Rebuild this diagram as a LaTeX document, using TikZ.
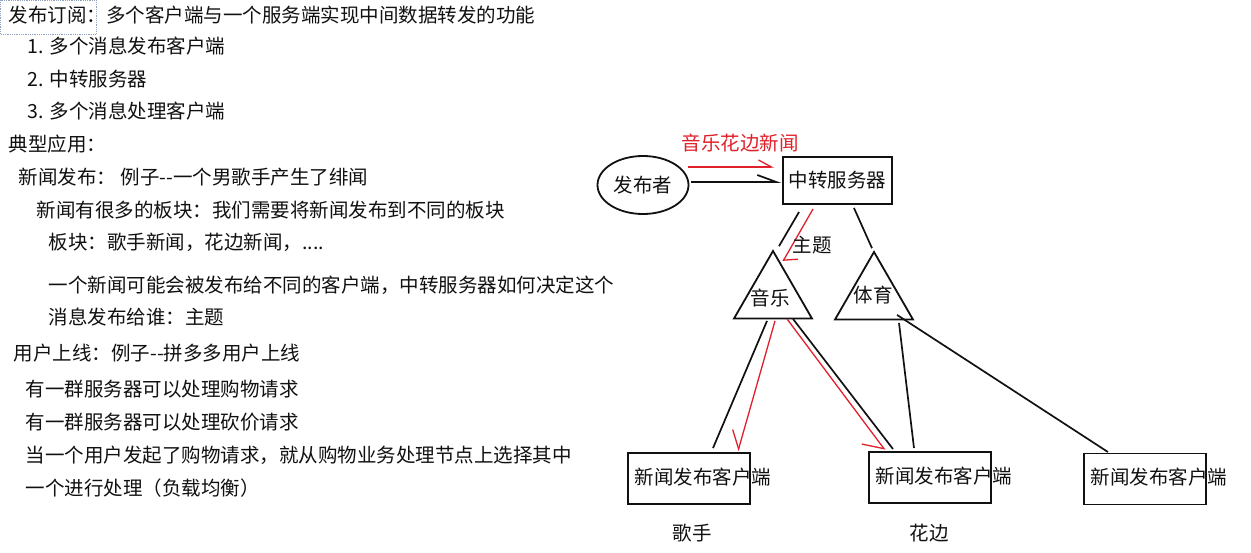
\documentclass[tikz,border=0pt]{standalone}
\usepackage{fontspec}
\setmainfont{Noto Sans CJK SC}
\usetikzlibrary{arrows.meta,positioning,calc,shapes.geometric}
\definecolor{ink}{HTML}{111111}
\definecolor{pen}{HTML}{E0202B}
\definecolor{sel}{HTML}{8FA3BF}

\begin{document}
\begin{tikzpicture}[x=1pt, y=1pt,
  font=\fontsize{19.5}{24}\selectfont, line width=1.5pt,
  txt/.style={anchor=west, inner sep=0pt, text=ink, text height=15pt, text depth=4pt},
  lbl/.style={inner sep=0pt, text=ink, text height=15pt, text depth=4pt},
  box/.style={draw=ink, line width=1.9pt, inner sep=0pt, minimum width=122pt, minimum height=51pt},
  tri/.style={draw=ink, line width=1.8pt, regular polygon, regular polygon sides=3, minimum size=90pt, inner sep=0pt},
  wire/.style={draw=ink, line width=1.7pt},
  redwire/.style={draw=pen, line width=1.3pt}]

\fill[white] (0,0) rectangle (1251,-553);
\useasboundingbox (0,0) rectangle (1251,-553);

% left side: notes
\draw[sel, densely dotted, line width=0.8pt] (0.5,-0.5) rectangle (96,-34);
\node[txt] (title) at (8,-17) {发布订阅：多个客户端与一个服务端实现中间数据转发的功能};
\node[txt] (it1) at (27,-48) {1. 多个消息发布客户端};
\node[txt] (it2) at (27,-81) {2. 中转服务器};
\node[txt] (it3) at (27,-113) {3. 多个消息处理客户端};
\node[txt] (app) at (8,-146) {典型应用：};
\node[txt] (news) at (18,-179) {新闻发布： 例子-{}-一个男歌手产生了绯闻};
\node[txt] (news1) at (36,-212) {新闻有很多的板块：我们需要将新闻发布到不同的板块};
\node[txt] (news2) at (48,-244) {板块：歌手新闻，花边新闻，....};
\node[txt] (news3) at (48,-287) {一个新闻可能会被发布给不同的客户端，中转服务器如何决定这个};
\node[txt] (news4) at (48,-319) {消息发布给谁：主题};
\node[txt] (user) at (13,-355) {用户上线：例子-{}-拼多多用户上线};
\node[txt] (user1) at (25,-391) {有一群服务器可以处理购物请求};
\node[txt] (user2) at (25,-424) {有一群服务器可以处理砍价请求};
\node[txt] (user3) at (25,-457) {当一个用户发起了购物请求，就从购物业务处理节点上选择其中};
\node[txt] (user4) at (25,-490) {一个进行处理（负载均衡）};

% right side: publisher and relay server
\node[draw=ink, line width=1.8pt, ellipse, minimum width=91pt, minimum height=58pt, inner sep=0pt, text=ink] (pub) at (643,-185) {发布者};
\node[draw=ink, line width=1.9pt, minimum width=109pt, minimum height=47pt, inner sep=0pt, text=ink] (srv) at (837.5,-180.5) {中转服务器};
\draw[wire, -{Straight Barb[harpoon,length=19pt,width=14pt]}] ([shift={(2,3)}]pub.east) -- ([shift={(-1,-1.5)}]srv.west);
\draw[redwire, -{Straight Barb[harpoon,length=13pt,width=14pt]}] ([shift={(-1.5,18)}]pub.east) -- ([shift={(-8,13.5)}]srv.west);
\node[lbl, text=pen] (msg) at (740,-145) {音乐花边新闻};

% topics
\node[tri] (mus) at (773,-296) {};
\node[tri] (spo) at (874,-297) {};
\node[lbl] (must) at (770,-300) {音乐};
\node[lbl] (spot) at (873,-297) {体育};
\draw[wire] ([shift={(17,-7)}]srv.south west) -- ([shift={(6,3)}]mus.north);
\draw[redwire, -{Straight Barb[harpoon,length=8pt,width=24pt]}] ([shift={(31,-4)}]srv.south west) -- ([shift={(10,-12)}]mus.north);
\node[lbl] (topic) at (812,-247) {主题};
\draw[wire] ([shift={(-39,-3)}]srv.south east) -- ([shift={(-2,2)}]spo.north);

% subscribers
\node[box] (cl1) at (689,-478.5) {};
\node[box] (cl2) at (930,-477.5) {};
\node[box] (cl3) at (1145,-479) {};
\node[txt] (cl1t) at ([xshift=7pt]cl1.west) {新闻发布客户端};
\node[txt] (cl2t) at ([xshift=7pt]cl2.west) {新闻发布客户端};
\node[txt] (cl3t) at ([xshift=7pt]cl3.west) {新闻发布客户端};
\node[lbl] (singer) at (692,-535) {歌手};
\node[lbl] (gossip) at (929,-535) {花边};

\draw[wire] ([shift={(-6,-1.5)}]mus.south) -- ([shift={(24,4)}]cl1.north);
\draw[redwire, -{Straight Barb[harpoon,swap,length=17pt,width=22pt]}] ([shift={(2,-1.5)}]mus.south) -- ([shift={(49,1)}]cl1.north);
\draw[redwire, -{Straight Barb[harpoon,swap,length=17pt,width=30pt]}] ([shift={(14,0.5)}]mus.south) -- ([shift={(-45,1)}]cl2.north);
\draw[wire] ([shift={(20,0.5)}]mus.south) -- ([shift={(-37,2)}]cl2.north);
\draw[wire] ([shift={(25,-2.5)}]spo.south) -- ([shift={(-16,3)}]cl2.north);
\draw[wire] ([shift={(23,5.5)}]spo.south) -- ([shift={(-37,0.5)}]cl3.north);
\end{tikzpicture}
\end{document}
